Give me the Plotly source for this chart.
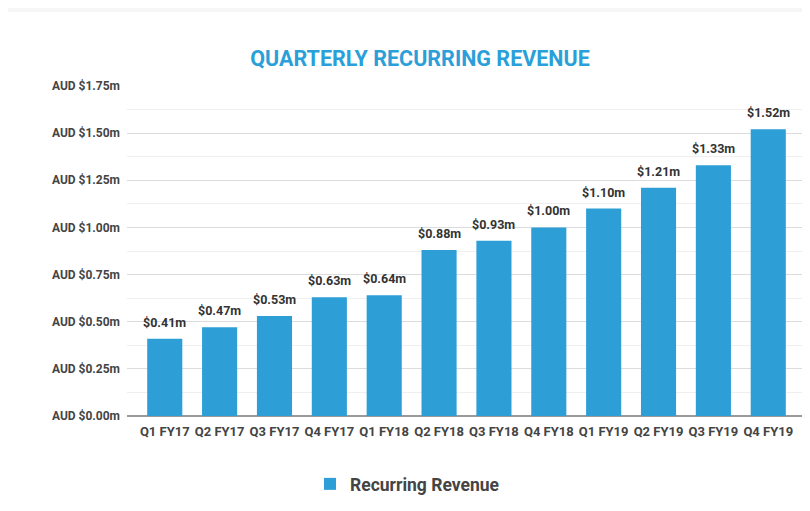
import plotly.graph_objects as go

categories = ["Q1 FY17", "Q2 FY17", "Q3 FY17", "Q4 FY17", "Q1 FY18", "Q2 FY18",
              "Q3 FY18", "Q4 FY18", "Q1 FY19", "Q2 FY19", "Q3 FY19", "Q4 FY19"]
revenue = [0.41, 0.47, 0.53, 0.63, 0.64, 0.88, 0.93, 1.00, 1.10, 1.21, 1.33, 1.52]
bar_labels = ["$0.41m", "$0.47m", "$0.53m", "$0.63m", "$0.64m", "$0.88m",
              "$0.93m", "$1.00m", "$1.10m", "$1.21m", "$1.33m", "$1.52m"]
y_tickvals = [0, 0.25, 0.5, 0.75, 1.0, 1.25, 1.5, 1.75]
y_ticktext = ["AUD $0.00m", "AUD $0.25m", "AUD $0.50m", "AUD $0.75m",
              "AUD $1.00m", "AUD $1.25m", "AUD $1.50m", "AUD $1.75m"]

BLUE = "#2e9fd6"
FONT = "Roboto"

# page body has an 8px margin, so figure coords are window coords minus 8
L, T, B, R = 119, 78, 103, 12
PW = 810 - L - R
PH = 511 - T - B

fig = go.Figure()
fig.add_trace(go.Bar(
    x=categories, y=revenue, name="Recurring Revenue",
    marker=dict(color=BLUE, line=dict(width=0)),
    width=0.64,
))

for c, v, t in zip(categories, revenue, bar_labels):
    fig.add_annotation(x=c, y=v, text=t, showarrow=False, yanchor="bottom",
                       yshift=7, font=dict(family=FONT, size=12.5, color="#333333",
                                           weight="bold"))

# card background
fig.add_shape(type="rect", xref="paper", yref="paper", layer="below",
              x0=-(L + 5) / PW, x1=1.1, y0=-0.5, y1=(T + PH - 4) / PH,
              fillcolor="white", line=dict(width=0))

fig.update_layout(
    width=810, height=511,
    margin=dict(l=L, r=R, t=T, b=B),
    paper_bgcolor="#f6f6f6",
    plot_bgcolor="white",
    title=dict(text="QUARTERLY RECURRING REVENUE", xref="paper", x=(412 - L) / PW,
               xanchor="center", y=1 - 50 / 511, yanchor="middle",
               font=dict(family=FONT, size=21.5, color="#2b9fd9", weight="bold")),
    showlegend=True,
    legend=dict(orientation="h", xref="paper", x=(302 - L) / PW, xanchor="left",
                yref="container", y=(511 - 476) / 511, yanchor="middle",
                font=dict(family=FONT, size=17.5, color="#444444", weight="bold"),
                bgcolor="rgba(0,0,0,0)"),
)
fig.update_xaxes(range=[-0.688, 11.688], showgrid=False, showline=False,
                 ticks="", ticklabelstandoff=6,
                 tickfont=dict(family=FONT, size=13, color="#444444",
                               weight="bold"))
fig.update_yaxes(range=[0, 1.75], tickvals=y_tickvals, ticktext=y_ticktext,
                 showgrid=True, gridcolor="#dcdcdc", gridwidth=1,
                 zeroline=True, zerolinecolor="#9a9a9a", zerolinewidth=1.5,
                 minor=dict(dtick=0.125, showgrid=True, gridcolor="#efefef",
                            gridwidth=1),
                 ticks="", ticklabelstandoff=6,
                 tickfont=dict(family=FONT, size=12, color="#444444",
                               weight="bold"))

fig.write_html("out.html")
